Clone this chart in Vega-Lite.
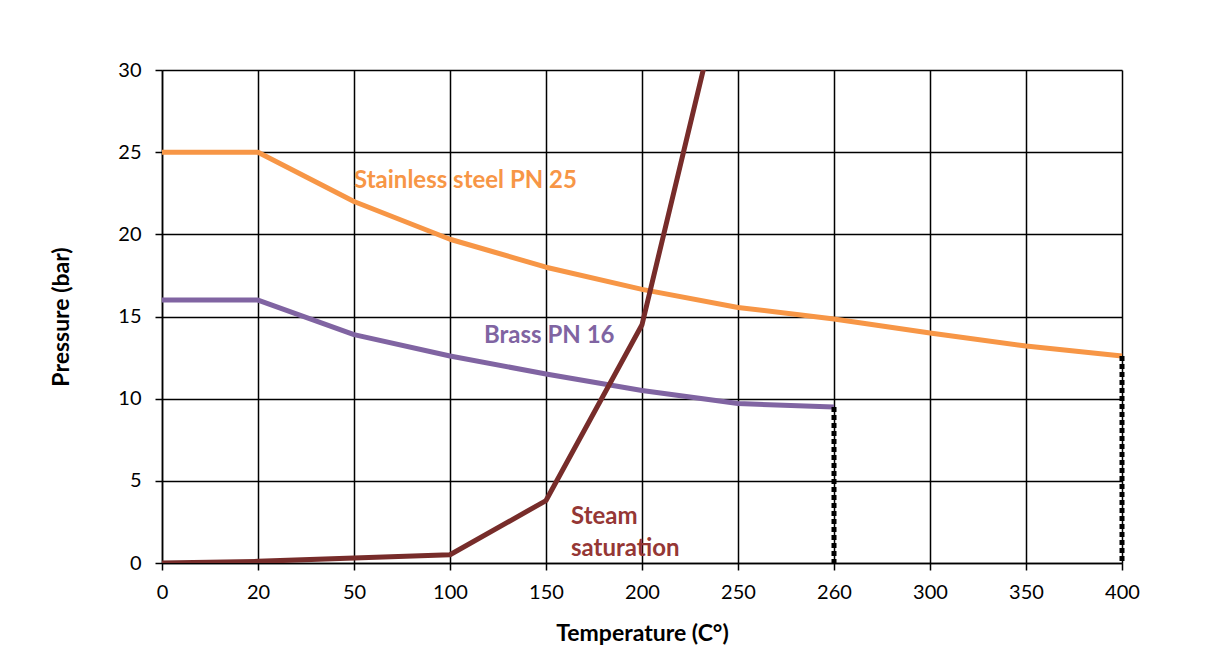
{
  "$schema": "https://vega.github.io/schema/vega-lite/v6.json",
  "width": 960,
  "height": 493,
  "autosize": "none",
  "padding": {"left": 162, "top": 70, "right": 97, "bottom": 87},
  "background": "white",
  "config": {
    "font": "Lato",
    "view": {"stroke": null},
    "axis": {
      "gridColor": "#000000",
      "gridWidth": 1.5,
      "gridOpacity": 1,
      "domainColor": "#000000",
      "domainWidth": 1.5,
      "tickColor": "#000000",
      "tickWidth": 1.5,
      "tickSize": 7,
      "labelFont": "Lato",
      "labelFontSize": 20,
      "labelColor": "#000000",
      "titleFont": "Lato",
      "titleFontSize": 23,
      "titleFontWeight": "bold",
      "titleColor": "#000000"
    }
  },
  "datasets": {
    "curves": [
      {"temp": 0, "series": "Stainless steel PN 25", "pressure": 25},
      {"temp": 20, "series": "Stainless steel PN 25", "pressure": 25},
      {"temp": 50, "series": "Stainless steel PN 25", "pressure": 22.0},
      {"temp": 100, "series": "Stainless steel PN 25", "pressure": 19.7},
      {"temp": 150, "series": "Stainless steel PN 25", "pressure": 18.0},
      {"temp": 200, "series": "Stainless steel PN 25", "pressure": 16.65},
      {"temp": 250, "series": "Stainless steel PN 25", "pressure": 15.55},
      {"temp": 260, "series": "Stainless steel PN 25", "pressure": 14.85},
      {"temp": 300, "series": "Stainless steel PN 25", "pressure": 14.0},
      {"temp": 350, "series": "Stainless steel PN 25", "pressure": 13.2},
      {"temp": 400, "series": "Stainless steel PN 25", "pressure": 12.6},
      {"temp": 0, "series": "Brass PN 16", "pressure": 16},
      {"temp": 20, "series": "Brass PN 16", "pressure": 16},
      {"temp": 50, "series": "Brass PN 16", "pressure": 13.9},
      {"temp": 100, "series": "Brass PN 16", "pressure": 12.6},
      {"temp": 150, "series": "Brass PN 16", "pressure": 11.5},
      {"temp": 200, "series": "Brass PN 16", "pressure": 10.5},
      {"temp": 250, "series": "Brass PN 16", "pressure": 9.7},
      {"temp": 260, "series": "Brass PN 16", "pressure": 9.5}
    ],
    "steam": [
      {"temp": 0, "pressure": 0},
      {"temp": 20, "pressure": 0.1},
      {"temp": 50, "pressure": 0.3},
      {"temp": 100, "pressure": 0.5},
      {"temp": 150, "pressure": 3.8},
      {"temp": 200, "pressure": 14.5},
      {"temp": 250, "pressure": 38.8}
    ],
    "limits": [
      {"temp": 260, "top": 9.5, "bottom": 0},
      {"temp": 400, "top": 12.6, "bottom": 0}
    ]
  },
  "encoding": {
    "x": {
      "field": "temp",
      "type": "ordinal",
      "scale": {"type": "point", "padding": 0, "domain": [0, 20, 50, 100, 150, 200, 250, 260, 300, 350, 400]},
      "axis": {"title": "Temperature (C°)", "labelAngle": 0, "labelPadding": 12, "titlePadding": 20, "grid": true}
    }
  },
  "layer": [
    {
      "data": {"name": "curves"},
      "mark": {"type": "line", "strokeWidth": 5, "strokeCap": "butt", "strokeJoin": "round"},
      "encoding": {
        "y": {
          "field": "pressure",
          "type": "quantitative",
          "scale": {"domain": [0, 30], "nice": false},
          "axis": {"title": "Pressure (bar)", "values": [0, 5, 10, 15, 20, 25, 30], "labelPadding": 14, "titlePadding": 44, "grid": true}
        },
        "color": {
          "field": "series",
          "type": "nominal",
          "scale": {"domain": ["Stainless steel PN 25", "Brass PN 16"], "range": ["#F79646", "#8064A2"]},
          "legend": null
        }
      }
    },
    {
      "data": {"name": "limits"},
      "mark": {"type": "rule", "strokeWidth": 5, "strokeDash": [5, 3], "color": "#000000"},
      "encoding": {
        "y": {"field": "top", "type": "quantitative"},
        "y2": {"field": "bottom"}
      }
    },
    {
      "data": {"name": "steam"},
      "mark": {"type": "line", "clip": true, "strokeWidth": 5, "color": "#772C2A", "strokeCap": "butt", "strokeJoin": "round"},
      "encoding": {
        "y": {"field": "pressure", "type": "quantitative"}
      }
    },
    {
      "data": {"values": [{"temp": 50, "pressure": 23.25, "label": "Stainless steel PN 25"}]},
      "mark": {"type": "text", "align": "left", "baseline": "middle", "fontSize": 24, "fontWeight": "bold", "color": "#F79646"},
      "encoding": {
        "y": {"field": "pressure", "type": "quantitative"},
        "text": {"field": "label"}
      }
    },
    {
      "data": {"values": [{"temp": 100, "pressure": 13.8, "label": "Brass PN 16"}]},
      "mark": {"type": "text", "align": "left", "baseline": "middle", "dx": 34, "fontSize": 24, "fontWeight": "bold", "color": "#8064A2"},
      "encoding": {
        "y": {"field": "pressure", "type": "quantitative"},
        "text": {"field": "label"}
      }
    },
    {
      "data": {"values": [{"temp": 150, "pressure": 2.8, "label": "Steam\nsaturation"}]},
      "mark": {"type": "text", "align": "left", "baseline": "middle", "dx": 25, "lineBreak": "\n", "lineHeight": 32, "fontSize": 24, "fontWeight": "bold", "color": "#953735"},
      "encoding": {
        "y": {"field": "pressure", "type": "quantitative"},
        "text": {"field": "label"}
      }
    }
  ]
}
